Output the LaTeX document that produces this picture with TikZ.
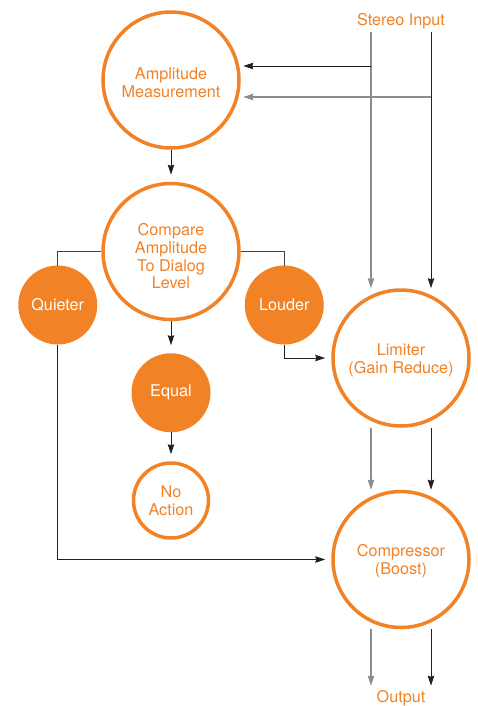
\documentclass[tikz,border=0pt]{standalone}
\usepackage{fontspec}
\setmainfont{TeX Gyre Heros}
\usetikzlibrary{arrows.meta,positioning}
\definecolor{dlorange}{RGB}{241,130,38}
\definecolor{wiregray}{RGB}{140,140,140}
\definecolor{wiredark}{RGB}{35,31,32}
\tikzset{
  stage/.style={circle,draw=dlorange,line width=3.5pt,fill=white,
    minimum size=136pt,inner sep=0pt,align=center,text=dlorange},
  decision/.style={circle,fill=dlorange,minimum size=79pt,inner sep=0pt,
    outer sep=0pt,text=white},
  result/.style={circle,draw=dlorange,line width=3.5pt,minimum size=75pt,
    inner sep=0pt,align=center,text=dlorange},
  signal/.style={text=dlorange,inner sep=3pt},
  arrow/.style={-{Stealth[length=10pt,width=6.5pt,inset=1pt]},line width=0.9pt,draw=wiredark},
  chanL/.style={arrow,draw=wiregray,line width=1.1pt},
  link/.style={line width=0.9pt,draw=wiredark!85}
}

\begin{document}
\begin{tikzpicture}[x=1pt,y=-1pt,font=\fontsize{16.2}{17.7}\selectfont]
  \useasboundingbox (0,0) rectangle (477,706);
  \node[stage] (amp) at (171,80) {\rule{0pt}{17pt}Amplitude\\Measurement};
  \node[stage,below=32pt of amp] (cmp) {\rule{0pt}{22pt}Compare\\Amplitude\\To Dialog\\Level};
  \node[decision,left=4pt of cmp,yshift=-53.5pt]  (quiet) {Quieter};
  \node[decision,right=4pt of cmp,yshift=-53.5pt] (loud)  {Louder};
  \node[decision,below=32pt of cmp] (equal) {Equal};
  \node[result,below=29pt of equal] (noact) {No\\Action};
  \node[stage,right=7.5pt of loud,yshift=-53pt] (lim) {\rule{0pt}{16pt}Limiter\\(Gain Reduce)};
  \node[stage,below=62pt of lim] (comp) {\rule{0pt}{15pt}Compressor\\(Boost)};
  \node[signal,anchor=base] (in) at (401,25.5) {Stereo Input};
  \node[signal,anchor=base,inner sep=4pt] (out) at (401,702) {Output};
  \coordinate (inL) at ([xshift=-30pt]in.south);
  \coordinate (inR) at ([xshift=30pt]in.south);
  \coordinate (tapL) at (371,66);
  \coordinate (tapR) at (431,97);

  \draw[chanL] (inL) -- (inL |- lim.north);
  \draw[arrow] (inR) -- (inR |- lim.north);
  \draw[arrow,shorten >=2.5pt] (tapL) -- (tapL -| amp.east);
  \draw[chanL,shorten >=2.5pt] (tapR) -- (tapR -| amp.east);
  \draw[arrow,shorten >=7pt] (amp) -- (cmp);
  \draw[link] (cmp.west) -| (quiet.north);
  \draw[link] (cmp.east) -| (loud.north);
  \draw[arrow,shorten >=8pt] (cmp) -- (equal);
  \draw[arrow,shorten >=7pt] (equal) -- (noact);
  \draw[arrow,shorten >=6pt] (loud.south) |- (lim.west);
  \draw[arrow,shorten >=6pt] (quiet.south) |- (comp.west);
  \draw[chanL] (inL |- lim.south) -- (inL |- comp.north);
  \draw[arrow] (inR |- lim.south) -- (inR |- comp.north);
  \draw[chanL] (inL |- comp.south) -- (inL |- out.north);
  \draw[arrow] (inR |- comp.south) -- (inR |- out.north);
\end{tikzpicture}
\end{document}
